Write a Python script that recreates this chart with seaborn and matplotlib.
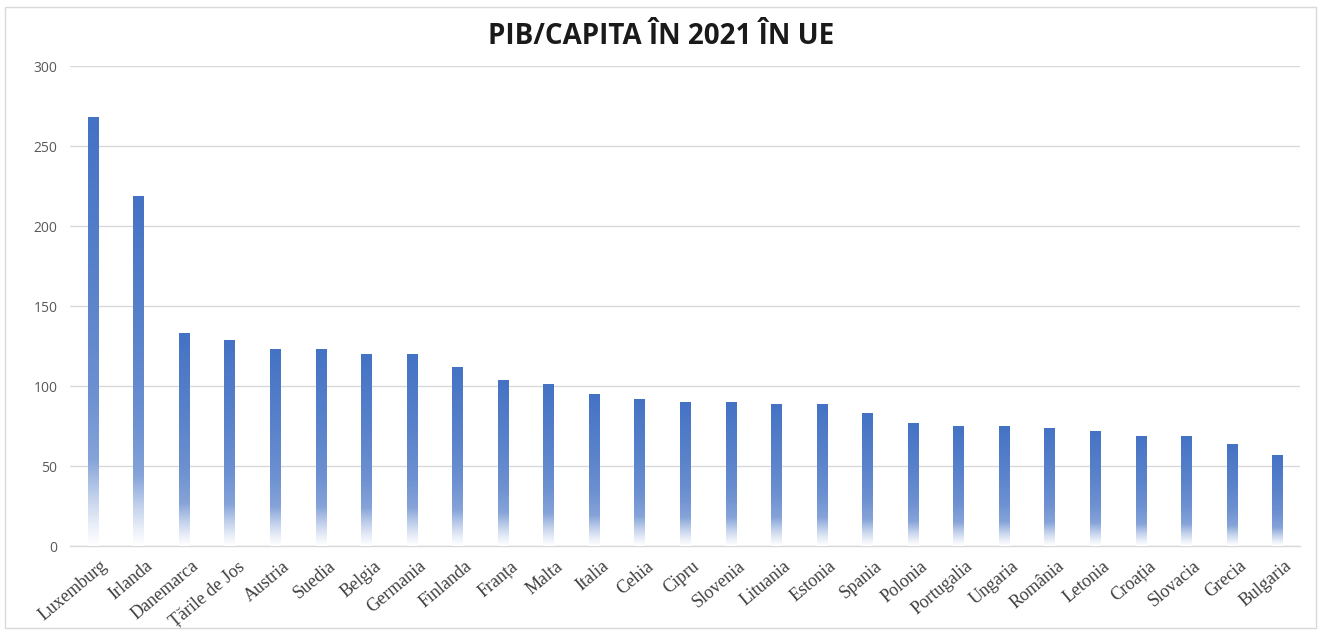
import numpy as np
import pandas as pd
import matplotlib
matplotlib.use("Agg")
import matplotlib.pyplot as plt
import seaborn as sns
from matplotlib.patches import Rectangle
from matplotlib.transforms import ScaledTranslation

countries = ["Luxemburg", "Irlanda", "Danemarca", "Țările de Jos", "Austria", "Suedia",
             "Belgia", "Germania", "Finlanda", "Franța", "Malta", "Italia", "Cehia",
             "Cipru", "Slovenia", "Lituania", "Estonia", "Spania", "Polonia",
             "Portugalia", "Ungaria", "România", "Letonia", "Croația", "Slovacia",
             "Grecia", "Bulgaria"]
values = [268, 219, 133, 129, 123, 123, 120, 120, 112, 104, 101, 95, 92,
          90, 90, 89, 89, 83, 77, 75, 75, 74, 72, 69, 69, 64, 57]
yticks = [0, 50, 100, 150, 200, 250, 300]
title = "PIB/CAPITA ÎN 2021 ÎN UE"

df = pd.DataFrame({"tara": countries, "pib": values})

sns.set_theme(style="white")
fig = plt.figure(figsize=(13.22, 6.33), dpi=100)
ax = fig.add_axes([70/1322, 1-546/633, 1230/1322, 480/633])

sns.barplot(data=df, x="tara", y="pib", color="#4472C4", width=0.22, ax=ax, zorder=3)

# gradient fill inside each bar
blue = np.array([68, 114, 196]) / 255.0
t = np.linspace(0, 1, 256)
s = np.interp(t, [0, 0.05, 0.12, 0.2, 0.35, 0.6, 1.0], [0.0, 0.12, 0.35, 0.65, 0.78, 0.88, 1.0])
rgb = 1 - s[:, None] * (1 - blue[None, :])
img = rgb[:, None, :]
for p in ax.patches:
    x0, y0 = p.get_x(), p.get_y()
    w, h = p.get_width(), p.get_height()
    p.set_facecolor("none")
    p.set_edgecolor("none")
    im = ax.imshow(img, extent=[x0, x0 + w, y0, y0 + h], origin="lower",
                   aspect="auto", zorder=3, interpolation="bilinear")
    im.set_clip_path(p)

ax.set_xlim(-0.5, len(countries) - 0.5)
ax.set_ylim(0, 300)
ax.set_yticks(yticks)
ax.set_yticklabels([str(v) for v in yticks], fontsize=10, color="#595959",
                   family=["Open Sans", "DejaVu Sans"])
ax.yaxis.grid(True, color="#d9d9d9", linewidth=1.0, zorder=0)
ax.set_axisbelow(True)
for side in ["top", "right", "left"]:
    ax.spines[side].set_visible(False)
ax.spines["bottom"].set_color("#d9d9d9")
ax.spines["bottom"].set_linewidth(1.0)
ax.tick_params(axis="y", length=0, pad=9)
ax.tick_params(axis="x", length=0, pad=4)
ax.set_xlabel("")
ax.set_ylabel("")
ax.set_xticks(range(len(countries)))
ax.set_xticklabels(countries, rotation=40, ha="right", va="top", rotation_mode="anchor",
                   fontsize=13, color="#404040", family=["Liberation Serif", "DejaVu Serif"])
for lbl in ax.get_xticklabels():
    lbl.set_transform(lbl.get_transform() + ScaledTranslation(7/100, -6/100, fig.dpi_scale_trans))

fig.text(0.5, 1 - 36/633, title, ha="center", va="center", fontsize=20, fontweight="bold",
         color="#1a1a1a", family=["Open Sans", "DejaVu Sans"])

fig.patches.append(Rectangle((5/1322, 1 - 628/633), 1311/1322, 621/633, transform=fig.transFigure,
                             fill=False, edgecolor="#d9d9d9", linewidth=1.0))

fig.savefig("out.png", dpi=100, facecolor="white")
